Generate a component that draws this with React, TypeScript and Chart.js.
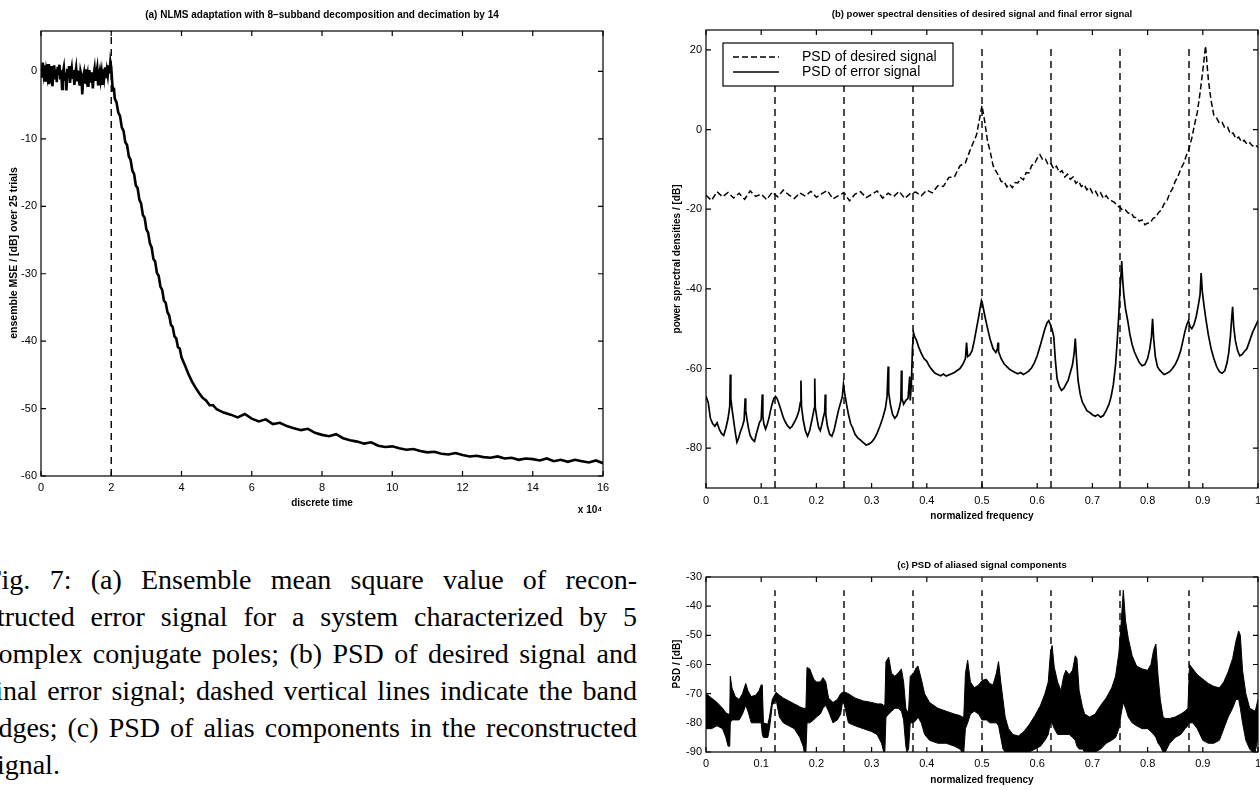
import React, { useEffect, useRef } from "react";
import { Chart, registerables } from "chart.js";

Chart.register(...registerables);

const SANS = "'Liberation Sans', Arial, Helvetica, sans-serif";
const SERIF = "'Liberation Serif', 'Times New Roman', serif";

// ---------------- (a) NLMS adaptation: [time x 10^4, dB] ----------------
const mseStart: [number, number][] = [
  [0, 0.4], [0.025, -0.9], [0.05, 1.3], [0.075, -0.2], [0.1, 0.9], [0.125, -1.5], [0.15, 0.1], [0.175, -0.7],
  [0.2, 1.1], [0.225, -1.9], [0.25, 0.6], [0.275, -0.4], [0.3, 0.8], [0.325, -2.2], [0.35, -0.3], [0.375, 0.9],
  [0.4, -1.0], [0.425, 0.3], [0.45, -1.6], [0.475, 0.7], [0.5, -0.5], [0.525, 1.0], [0.55, -1.2], [0.575, 0.2],
  [0.6, -2.6], [0.625, -0.1], [0.65, 0.6], [0.675, -1.4], [0.7, -0.2], [0.725, -2.8], [0.75, 0.4], [0.775, -0.9],
  [0.8, 0.8], [0.825, -1.7], [0.85, -0.3], [0.875, 0.5], [0.9, -1.1], [0.925, 0.2], [0.95, -2.0], [0.975, -0.4],
  [1.0, 0.5], [1.025, -1.3], [1.05, 0.1], [1.075, -0.8], [1.1, -2.1], [1.125, 0.0], [1.15, -0.6], [1.175, -3.4],
  [1.2, -0.9], [1.225, -0.2], [1.25, -1.8], [1.275, 0.3], [1.3, -1.1], [1.325, -0.4], [1.35, -2.3], [1.375, 0.2],
  [1.4, -0.7], [1.425, -1.5], [1.45, -0.1], [1.475, -2.5], [1.5, -0.5], [1.525, 0.4], [1.55, -1.4], [1.575, -0.3],
  [1.6, 0.5], [1.625, -1.9], [1.65, -0.6], [1.675, 0.1], [1.7, -1.2], [1.725, -0.2], [1.75, -2.0], [1.775, 0.3],
  [1.8, -0.8], [1.825, 0.6], [1.85, -1.0], [1.875, 0.2], [1.9, -0.6], [1.925, 0.9], [1.95, -0.3], [1.975, 1.4],
  [2.0, 0.6],
];
const mseFall: [number, number][] = [
  [2.025, -1.5], [2.05, -2.8], [2.075, -2.4], [2.1, -4.0], [2.15, -4.6], [2.2, -6.1], [2.25, -6.6], [2.3, -8.3],
  [2.35, -8.8], [2.4, -10.5], [2.45, -10.9], [2.5, -12.6], [2.55, -13.1], [2.6, -14.7], [2.65, -15.2], [2.7, -16.9],
  [2.75, -17.3], [2.8, -19.0], [2.85, -19.6], [2.9, -21.3], [2.95, -21.7], [3.0, -23.4], [3.05, -23.9], [3.1, -25.5],
  [3.15, -26.1], [3.2, -27.8], [3.25, -28.2], [3.3, -29.9], [3.35, -30.3], [3.4, -31.9], [3.45, -32.4], [3.5, -34.0],
  [3.55, -34.3], [3.6, -35.7], [3.65, -36.2], [3.7, -37.6], [3.75, -37.9], [3.8, -39.3], [3.85, -39.6], [3.9, -40.9],
  [3.95, -41.1], [4.0, -42.4], [4.1, -43.6], [4.2, -44.9], [4.3, -46.0], [4.4, -46.9], [4.5, -47.7], [4.6, -48.4],
  [4.7, -48.8], [4.8, -49.5], [4.9, -49.5], [5.0, -50.1],
];
const mseTail: [number, number][] = [
  [5.2, -50.6], [5.4, -50.9], [5.6, -51.3], [5.8, -50.8], [6.0, -51.5], [6.2, -51.9], [6.4, -51.6], [6.6, -52.3],
  [6.8, -52.1], [7.0, -52.6], [7.2, -52.9], [7.4, -53.2], [7.6, -53.0], [7.8, -53.6], [8.0, -53.9], [8.2, -54.1],
  [8.4, -53.8], [8.6, -54.4], [8.8, -54.7], [9.0, -54.9], [9.2, -55.2], [9.4, -55.0], [9.6, -55.5], [9.8, -55.7],
  [10.0, -55.6], [10.2, -55.9], [10.4, -56.1], [10.6, -56.0], [10.8, -56.3], [11.0, -56.5], [11.2, -56.4],
  [11.4, -56.7], [11.6, -56.8], [11.8, -56.6], [12.0, -56.9], [12.2, -57.1], [12.4, -57.0], [12.6, -57.2],
  [12.8, -57.3], [13.0, -57.1], [13.2, -57.4], [13.4, -57.3], [13.6, -57.6], [13.8, -57.4], [14.0, -57.5],
  [14.2, -57.7], [14.4, -57.4], [14.6, -57.8], [14.8, -57.6], [15.0, -57.9], [15.2, -57.6], [15.4, -57.8],
  [15.6, -58.0], [15.8, -57.7], [16.0, -58.1],
];
const adaptationStart = [2];
const aXTicks = [0, 2, 4, 6, 8, 10, 12, 14, 16];
const aXTickLabels = ["0", "2", "4", "6", "8", "10", "12", "14", "16"];
const aYTicks = [-60, -50, -40, -30, -20, -10, 0];
const aYTickLabels = ["-60", "-50", "-40", "-30", "-20", "-10", "0"];

// ---------------- (b) PSDs: [normalized frequency, dB] ----------------
const bandEdges = [0.125, 0.25, 0.375, 0.5, 0.625, 0.75, 0.875];
const desiredPsd: [number, number][] = [
  [0, -16.5], [0.01, -17.8], [0.02, -15.6], [0.03, -16.9], [0.04, -15.8], [0.05, -17.2], [0.06, -16.0],
  [0.07, -17.5], [0.08, -15.4], [0.09, -16.8], [0.1, -16.2], [0.11, -17.6], [0.12, -15.7], [0.13, -16.9],
  [0.14, -15.2], [0.15, -16.4], [0.16, -17.3], [0.17, -15.9], [0.18, -16.7], [0.19, -15.5], [0.2, -17.0],
  [0.21, -16.1], [0.22, -15.3], [0.23, -17.4], [0.24, -16.6], [0.25, -15.8], [0.26, -17.9], [0.27, -16.2],
  [0.28, -15.6], [0.29, -17.1], [0.3, -16.3], [0.31, -15.4], [0.32, -17.2], [0.33, -16.0], [0.34, -16.8],
  [0.35, -15.5], [0.36, -17.3], [0.37, -16.1], [0.38, -15.7], [0.39, -16.6], [0.4, -15.2], [0.41, -15.9],
  [0.42, -14.1], [0.43, -14.3], [0.44, -12.0], [0.45, -11.9], [0.46, -9.1], [0.47, -8.3], [0.48, -4.6],
  [0.49, -1.4], [0.495, 2.3], [0.5, 6.0], [0.505, 2.0], [0.51, -2.9], [0.515, -5.6], [0.52, -9.0],
  [0.525, -10.4], [0.53, -11.6], [0.535, -13.1], [0.54, -13.0], [0.545, -14.4], [0.55, -13.7], [0.555, -14.6],
  [0.56, -13.3], [0.565, -13.4], [0.57, -12.1], [0.575, -12.6], [0.58, -10.8], [0.585, -10.9], [0.59, -9.0],
  [0.595, -8.7], [0.6, -7.2], [0.605, -6.3], [0.61, -7.6], [0.615, -7.4], [0.62, -8.9], [0.625, -8.6],
  [0.63, -9.9], [0.635, -9.2], [0.64, -10.8], [0.645, -10.3], [0.65, -11.9], [0.655, -11.2], [0.66, -12.5],
  [0.665, -11.9], [0.67, -13.5], [0.675, -12.9], [0.68, -14.3], [0.685, -13.8], [0.69, -15.1], [0.695, -14.5],
  [0.7, -15.9], [0.705, -15.3], [0.71, -16.6], [0.715, -15.9], [0.72, -17.3], [0.725, -16.6], [0.73, -17.6],
  [0.735, -17.9], [0.74, -18.3], [0.745, -19.2], [0.75, -19.5], [0.755, -20.3], [0.76, -20.2], [0.765, -21.0],
  [0.77, -20.9], [0.775, -22.0], [0.78, -22.1], [0.785, -23.0], [0.79, -22.7], [0.795, -23.9], [0.8, -23.5],
  [0.805, -23.4], [0.81, -22.3], [0.815, -22.0], [0.82, -20.8], [0.825, -20.2], [0.83, -18.6], [0.835, -17.9],
  [0.84, -16.0], [0.845, -14.9], [0.85, -13.0], [0.855, -11.8], [0.86, -9.9], [0.865, -8.6], [0.87, -6.6],
  [0.875, -4.8], [0.88, -2.2], [0.885, 1.2], [0.89, 4.3], [0.895, 9.2], [0.9, 14.8], [0.905, 21.0],
  [0.91, 12.6], [0.915, 7.3], [0.92, 3.6], [0.925, 2.9], [0.93, 1.6], [0.935, 1.8], [0.94, 0.4], [0.945, 0.6],
  [0.95, -1.1], [0.955, -0.9], [0.96, -2.3], [0.965, -1.9], [0.97, -3.1], [0.975, -2.7], [0.98, -3.7],
  [0.985, -3.3], [0.99, -4.1], [0.995, -3.8], [1, -4.5],
];
const errorPsd: [number, number][] = [
  [0, -67.0], [0.004, -68.5], [0.008, -72.5], [0.012, -73.8], [0.016, -74.5], [0.02, -73.6], [0.024, -75.2],
  [0.028, -76.3], [0.032, -76.8], [0.036, -75.0], [0.04, -72.5], [0.043, -69.5], [0.044, -61.5], [0.045, -67.5],
  [0.047, -70.0], [0.05, -73.0], [0.053, -76.0], [0.056, -78.5], [0.059, -77.5], [0.062, -76.0], [0.066, -74.5],
  [0.069, -73.0], [0.071, -67.5], [0.072, -70.5], [0.074, -72.5], [0.077, -75.0], [0.08, -76.8], [0.084, -77.8],
  [0.088, -78.3], [0.091, -76.5], [0.094, -75.0], [0.097, -73.5], [0.1, -72.8], [0.102, -66.5], [0.103, -72.0],
  [0.105, -74.0], [0.108, -75.2], [0.111, -74.0], [0.114, -72.5], [0.117, -70.5], [0.12, -68.8], [0.123, -67.5],
  [0.126, -67.0], [0.129, -67.6], [0.132, -68.8], [0.136, -70.5], [0.14, -72.3], [0.144, -73.5], [0.148, -74.4],
  [0.152, -75.0], [0.156, -74.5], [0.16, -73.5], [0.164, -72.4], [0.168, -70.8], [0.171, -68.5], [0.172, -63.0],
  [0.173, -69.5], [0.176, -72.8], [0.18, -75.6], [0.184, -77.0], [0.188, -75.5], [0.191, -73.5], [0.194, -71.5],
  [0.196, -70.0], [0.197, -62.5], [0.198, -69.8], [0.201, -72.5], [0.204, -74.8], [0.207, -75.6], [0.21, -74.0],
  [0.213, -72.0], [0.215, -71.0], [0.216, -66.5], [0.217, -71.5], [0.22, -74.5], [0.224, -76.5], [0.228, -77.0],
  [0.232, -75.5], [0.236, -73.0], [0.24, -70.5], [0.244, -68.5], [0.247, -67.0], [0.249, -64.0], [0.251, -66.0],
  [0.254, -68.5], [0.258, -71.5], [0.262, -73.8], [0.266, -75.0], [0.27, -76.5], [0.275, -77.4], [0.28, -78.0],
  [0.285, -78.6], [0.29, -79.2], [0.295, -79.0], [0.3, -78.5], [0.305, -77.6], [0.31, -76.2], [0.315, -74.5],
  [0.32, -72.5], [0.325, -70.0], [0.328, -67.0], [0.33, -59.5], [0.331, -66.0], [0.334, -69.0], [0.338, -71.5],
  [0.342, -72.5], [0.346, -71.8], [0.35, -70.0], [0.353, -68.0], [0.354, -60.5], [0.355, -67.5], [0.358, -69.0],
  [0.362, -68.0], [0.366, -67.5], [0.369, -62.0], [0.37, -68.0], [0.372, -64.0], [0.374, -55.0], [0.376, -51.0],
  [0.378, -52.0], [0.381, -52.8], [0.385, -54.5], [0.39, -56.2], [0.395, -57.5], [0.4, -58.2], [0.405, -59.5],
  [0.41, -60.4], [0.415, -61.2], [0.42, -61.5], [0.425, -61.8], [0.43, -61.4], [0.435, -61.9], [0.44, -61.6],
  [0.445, -61.3], [0.45, -61.0], [0.455, -60.5], [0.46, -60.0], [0.465, -59.0], [0.47, -57.5], [0.472, -53.5],
  [0.474, -57.0], [0.478, -56.6], [0.482, -55.5], [0.486, -53.0], [0.49, -50.0], [0.494, -47.0], [0.497, -44.5],
  [0.499, -43.0], [0.501, -43.8], [0.504, -46.0], [0.507, -48.0], [0.511, -50.5], [0.515, -52.8], [0.52, -55.0],
  [0.525, -56.0], [0.528, -55.0], [0.529, -53.5], [0.53, -55.8], [0.535, -57.6], [0.54, -58.8], [0.545, -59.5],
  [0.55, -60.2], [0.555, -60.6], [0.56, -61.0], [0.565, -61.3], [0.57, -61.0], [0.575, -61.5], [0.58, -61.1],
  [0.585, -60.6], [0.59, -59.8], [0.595, -58.5], [0.6, -56.8], [0.605, -54.5], [0.61, -52.0], [0.614, -50.0],
  [0.618, -48.5], [0.621, -48.0], [0.624, -49.0], [0.627, -50.2], [0.63, -52.0], [0.633, -58.0], [0.636, -62.5],
  [0.64, -64.5], [0.644, -65.5], [0.648, -65.0], [0.652, -64.0], [0.656, -63.0], [0.66, -61.0], [0.664, -59.0],
  [0.667, -56.0], [0.669, -52.5], [0.671, -57.0], [0.674, -63.0], [0.678, -66.5], [0.682, -68.5], [0.686, -69.5],
  [0.69, -70.6], [0.695, -71.0], [0.7, -71.6], [0.705, -72.0], [0.71, -71.6], [0.715, -72.2], [0.72, -71.8],
  [0.725, -70.5], [0.73, -69.0], [0.734, -67.0], [0.738, -64.0], [0.742, -59.0], [0.745, -53.0], [0.748, -46.0],
  [0.75, -40.0], [0.752, -36.0], [0.753, -33.0], [0.755, -38.0], [0.757, -41.5], [0.76, -45.0], [0.764, -48.0],
  [0.768, -51.5], [0.772, -54.0], [0.776, -55.8], [0.78, -57.0], [0.785, -58.5], [0.79, -59.3], [0.795, -59.0],
  [0.8, -57.5], [0.804, -55.0], [0.807, -52.0], [0.809, -47.5], [0.811, -52.5], [0.814, -57.0], [0.818, -59.6],
  [0.822, -60.4], [0.826, -61.0], [0.83, -61.5], [0.835, -61.2], [0.84, -60.8], [0.845, -60.0], [0.85, -59.0],
  [0.855, -57.5], [0.86, -55.5], [0.864, -53.0], [0.868, -50.5], [0.871, -49.0], [0.874, -48.0], [0.877, -49.5],
  [0.88, -50.0], [0.884, -49.0], [0.888, -47.0], [0.892, -44.0], [0.895, -41.5], [0.897, -36.0], [0.899, -40.5],
  [0.902, -44.0], [0.906, -48.0], [0.91, -51.5], [0.915, -55.0], [0.92, -57.5], [0.925, -59.5], [0.93, -60.8],
  [0.935, -61.2], [0.94, -60.5], [0.944, -58.5], [0.947, -56.0], [0.95, -52.0], [0.952, -48.0], [0.954, -44.5],
  [0.956, -49.5], [0.959, -53.0], [0.963, -55.5], [0.967, -56.8], [0.971, -56.5], [0.975, -55.8], [0.98, -55.0],
  [0.985, -53.0], [0.99, -51.0], [0.995, -49.5], [1, -48.0],
];
const freqTicks = [0, 0.1, 0.2, 0.3, 0.4, 0.5, 0.6, 0.7, 0.8, 0.9, 1];
const freqTickLabels = ["0", "0.1", "0.2", "0.3", "0.4", "0.5", "0.6", "0.7", "0.8", "0.9", "1"];
const bYTicks = [-80, -60, -40, -20, 0, 20];
const bYTickLabels = ["-80", "-60", "-40", "-20", "0", "20"];

// ---------------- (c) aliased components: [freq, upper envelope dB, lower envelope dB] ----------------
const aliasBand: [number, number, number][] = [
  [0, -70, -82], [0.01, -71.5, -82], [0.02, -73, -81], [0.03, -75, -82], [0.036, -76.5, -85], [0.04, -77, -88],
  [0.043, -77, -88], [0.044, -64, -80], [0.047, -68, -79], [0.053, -71, -79], [0.06, -72, -79], [0.066, -70, -77],
  [0.072, -66.5, -74], [0.076, -69, -76], [0.082, -71, -80], [0.09, -70.5, -80], [0.096, -69, -80], [0.1, -67, -80],
  [0.102, -67, -84], [0.104, -80, -85], [0.112, -80.5, -85], [0.115, -78, -82], [0.12, -72, -74], [0.127, -69.5, -72],
  [0.133, -70.5, -78], [0.14, -71.5, -80], [0.15, -72.5, -81], [0.16, -73.5, -82], [0.17, -74.5, -85],
  [0.176, -75, -88], [0.178, -75, -90], [0.181, -75, -90], [0.183, -61, -80], [0.188, -61.5, -80], [0.195, -65, -79],
  [0.2, -66, -78], [0.207, -66, -77], [0.212, -64.5, -75], [0.217, -66, -74], [0.222, -71.5, -76], [0.23, -73, -80],
  [0.238, -72, -79], [0.244, -70, -77], [0.248, -69.5, -72], [0.252, -69.5, -75], [0.258, -70, -80],
  [0.27, -71.5, -81], [0.285, -72.5, -82], [0.3, -73, -83], [0.31, -73.5, -84], [0.318, -73.5, -87],
  [0.322, -74, -90], [0.324, -74, -90], [0.326, -59, -78], [0.331, -57.5, -77], [0.336, -63, -76], [0.342, -64, -75],
  [0.348, -63, -75], [0.354, -61.5, -76], [0.358, -66, -79], [0.362, -75, -88], [0.364, -76, -90], [0.367, -76, -89],
  [0.37, -64, -80], [0.376, -63, -80], [0.381, -61, -79], [0.384, -60.5, -78], [0.39, -65, -80], [0.396, -70, -84],
  [0.405, -73, -86], [0.42, -75, -87], [0.435, -76, -87], [0.45, -77, -88], [0.46, -77.5, -89], [0.464, -78, -90],
  [0.467, -78, -90], [0.47, -63, -82], [0.474, -58.5, -80], [0.479, -66, -77], [0.486, -68, -76], [0.494, -67, -77],
  [0.5, -65.5, -79], [0.508, -65, -79], [0.514, -66.5, -80], [0.52, -67, -80], [0.526, -63, -80], [0.53, -59, -81],
  [0.534, -66, -85], [0.538, -72, -89], [0.542, -78, -90], [0.548, -82, -90], [0.556, -84, -90], [0.566, -84.5, -90],
  [0.576, -83, -90], [0.586, -80.5, -90], [0.596, -77.5, -89], [0.606, -74, -88], [0.614, -70, -86], [0.62, -66, -84],
  [0.624, -56, -80], [0.627, -53.5, -80], [0.631, -61, -82], [0.637, -66, -84], [0.643, -69, -84], [0.648, -64, -84],
  [0.652, -62, -84], [0.658, -63.5, -84], [0.664, -62, -85], [0.669, -57, -86], [0.672, -58, -88], [0.676, -69, -89],
  [0.682, -74.5, -89], [0.686, -77, -90], [0.695, -78, -90], [0.705, -77, -90], [0.715, -74, -89], [0.725, -71.5, -87],
  [0.735, -68, -86], [0.742, -64, -85], [0.748, -56, -82], [0.752, -46, -77], [0.756, -34.5, -73], [0.76, -45, -75],
  [0.765, -51, -78], [0.772, -57, -80], [0.78, -60.5, -81], [0.79, -61.5, -82], [0.8, -62, -82], [0.806, -60, -83],
  [0.811, -55, -84], [0.815, -53, -85], [0.819, -64, -87], [0.823, -72, -88], [0.828, -78, -90], [0.832, -78.5, -90],
  [0.84, -78.5, -87], [0.85, -78, -85], [0.86, -77, -84], [0.868, -76, -82], [0.873, -75, -81], [0.876, -60, -80],
  [0.882, -61.5, -80], [0.89, -63.5, -82], [0.9, -65, -86], [0.91, -66.5, -87], [0.92, -67.5, -87], [0.93, -68, -86],
  [0.938, -66, -82], [0.946, -62.5, -78], [0.954, -58, -75], [0.96, -52, -72], [0.965, -48.5, -72], [0.968, -50, -75],
  [0.972, -62, -80], [0.978, -70, -86], [0.985, -75, -89], [0.99, -75.5, -90], [0.995, -76, -90], [1, -72, -85],
];
const cYTicks = [-90, -80, -70, -60, -50, -40, -30];
const cYTickLabels = ["-90", "-80", "-70", "-60", "-50", "-40", "-30"];

const captionLines = [
  "Fig. 7:  (a) Ensemble mean square value of recon-",
  "structed error signal for a system characterized by 5",
  "complex conjugate poles; (b) PSD of desired signal and",
  "final error signal; dashed vertical lines indicate the band",
  "edges; (c) PSD of alias components in the reconstructed",
  "signal.",
];

// ---------------- helpers ----------------
const pts = (arr: [number, number][]) => arr.map(([x, y]) => ({ x, y }));
const vline = (x: number, y0: number, y1: number) => [{ x, y: y0 }, { x, y: y1 }];

type Txt = { text: string; x: number; y: number; font: string; align?: CanvasTextAlign; rotate?: boolean };
type Spec = {
  canvas: { left: number; top: number; width: number; height: number };
  box: { left: number; top: number; right: number; bottom: number };
  x: { min: number; max: number; ticks: number[]; labels: string[] };
  y: { min: number; max: number; ticks: number[]; labels: string[] };
  tickSize: number;
  xTickPad: number;
  yTickPad: number;
  datasets: any[];
  texts: Txt[];
  legend?: { box: [number, number, number, number]; sampleX: [number, number]; textX: number; rows: { label: string; dash: number[]; y: number }[]; font: string };
};

const edgeStyle = { borderColor: "#000", borderWidth: 1.4, borderDash: [7, 5], pointRadius: 0, fill: false };

const SPECS: Spec[] = [
  {
    canvas: { left: 0, top: 0, width: 640, height: 530 },
    box: { left: 41, top: 31, right: 603, bottom: 476 },
    x: { min: 0, max: 16, ticks: aXTicks, labels: aXTickLabels },
    y: { min: -60, max: 6, ticks: aYTicks, labels: aYTickLabels },
    tickSize: 11,
    xTickPad: 5,
    yTickPad: 4,
    datasets: [
      ...adaptationStart.map((t) => ({ label: "start", data: vline(t, -60, 6), ...edgeStyle })),
      {
        label: "ensemble MSE",
        data: pts([...mseStart, ...mseFall, ...mseTail]),
        borderColor: "#000",
        borderWidth: 2.6,
        pointRadius: 0,
        fill: false,
      },
    ],
    texts: [
      { text: "(a) NLMS adaptation with 8\u2212subband decomposition and decimation by 14", x: 322, y: 15, font: `bold 10px ${SANS}` },
      { text: "ensemble MSE / [dB] over 25 trials", x: 14, y: 253, font: `bold 10.5px ${SANS}`, rotate: true },
      { text: "discrete time", x: 322, y: 503, font: `bold 10px ${SANS}` },
      { text: "x 10\u2074", x: 590, y: 510, font: `bold 10px ${SANS}` },
    ],
  },
  {
    canvas: { left: 640, top: 0, width: 630, height: 540 },
    box: { left: 706, top: 30, right: 1258, bottom: 488 },
    x: { min: 0, max: 1, ticks: freqTicks, labels: freqTickLabels },
    y: { min: -90, max: 25, ticks: bYTicks, labels: bYTickLabels },
    tickSize: 11,
    xTickPad: 6,
    yTickPad: 4,
    datasets: [
      ...bandEdges.map((e) => ({ label: "band edge", data: vline(e, -90, 21.5), ...edgeStyle })),
      {
        label: "PSD of desired signal",
        data: pts(desiredPsd),
        borderColor: "#000",
        borderWidth: 1.5,
        borderDash: [6, 3],
        pointRadius: 0,
        fill: false,
      },
      {
        label: "PSD of error signal",
        data: pts(errorPsd),
        borderColor: "#000",
        borderWidth: 1.7,
        pointRadius: 0,
        fill: false,
      },
    ],
    texts: [
      { text: "(b) power spectral densities of desired signal and final error signal", x: 982, y: 14, font: `bold 9.5px ${SANS}` },
      { text: "power sprectral densities / [dB]", x: 677, y: 259, font: `bold 10px ${SANS}`, rotate: true },
      { text: "normalized frequency", x: 982, y: 516, font: `bold 10px ${SANS}` },
    ],
    legend: {
      box: [723, 43, 953, 86],
      sampleX: [733, 779],
      textX: 802,
      rows: [
        { label: "PSD of desired signal", dash: [6, 3], y: 57 },
        { label: "PSD of error signal", dash: [], y: 72 },
      ],
      font: `14px ${SANS}`,
    },
  },
  {
    canvas: { left: 640, top: 545, width: 630, height: 245 },
    box: { left: 706, top: 577, right: 1258, bottom: 752 },
    x: { min: 0, max: 1, ticks: freqTicks, labels: freqTickLabels },
    y: { min: -90, max: -30, ticks: cYTicks, labels: cYTickLabels },
    tickSize: 11,
    xTickPad: 5,
    yTickPad: 4,
    datasets: [
      ...bandEdges.map((e) => ({ label: "band edge", data: vline(e, -90, -34.5), ...edgeStyle })),
      {
        label: "alias lower",
        data: aliasBand.map(([f, , lo]) => ({ x: f, y: lo })),
        borderColor: "#000",
        borderWidth: 1,
        pointRadius: 0,
        fill: false,
      },
      {
        label: "PSD of aliased components",
        data: aliasBand.map(([f, hi]) => ({ x: f, y: hi })),
        borderColor: "#000",
        borderWidth: 1,
        pointRadius: 0,
        backgroundColor: "#000",
        fill: "-1",
      },
    ],
    texts: [
      { text: "(c) PSD of aliased signal components", x: 982, y: 565, font: `bold 9.5px ${SANS}` },
      { text: "PSD / [dB]", x: 677, y: 664, font: `bold 10px ${SANS}`, rotate: true },
      { text: "normalized frequency", x: 982, y: 780, font: `bold 10px ${SANS}` },
    ],
  },
];

function makeChart(canvas: HTMLCanvasElement, s: Spec) {
  const yw = s.box.left - s.canvas.left;
  const xh = 24;
  const padding = {
    left: 0,
    top: s.box.top - s.canvas.top,
    right: s.canvas.left + s.canvas.width - s.box.right,
    bottom: s.canvas.top + s.canvas.height - s.box.bottom - xh,
  };
  const ox = s.canvas.left;
  const oy = s.canvas.top;
  const frame = {
    id: "matlabFrame",
    afterDatasetsDraw(chart: any) {
      const { ctx, chartArea: a, scales } = chart;
      ctx.save();
      if (s.legend) {
        const L = s.legend;
        const [x1, y1, x2, y2] = L.box;
        ctx.fillStyle = "#fff";
        ctx.fillRect(x1 - ox, y1 - oy, x2 - x1, y2 - y1);
        ctx.strokeStyle = "#000";
        ctx.lineWidth = 1.2;
        ctx.setLineDash([]);
        ctx.strokeRect(x1 - ox, y1 - oy, x2 - x1, y2 - y1);
        ctx.font = L.font;
        ctx.fillStyle = "#000";
        ctx.textAlign = "left";
        ctx.textBaseline = "middle";
        for (const r of L.rows) {
          ctx.setLineDash(r.dash);
          ctx.lineWidth = 1.4;
          ctx.beginPath();
          ctx.moveTo(L.sampleX[0] - ox, r.y - oy);
          ctx.lineTo(L.sampleX[1] - ox, r.y - oy);
          ctx.stroke();
          ctx.setLineDash([]);
          ctx.fillText(r.label, L.textX - ox, r.y - oy);
        }
      }
      ctx.setLineDash([]);
      ctx.strokeStyle = "#000";
      ctx.lineWidth = 1.2;
      ctx.strokeRect(a.left, a.top, a.right - a.left, a.bottom - a.top);
      const tl = 5;
      ctx.beginPath();
      for (const t of scales.x.ticks) {
        const px = scales.x.getPixelForValue(t.value);
        ctx.moveTo(px, a.bottom);
        ctx.lineTo(px, a.bottom - tl);
        ctx.moveTo(px, a.top);
        ctx.lineTo(px, a.top + tl);
      }
      for (const t of scales.y.ticks) {
        const py = scales.y.getPixelForValue(t.value);
        ctx.moveTo(a.left, py);
        ctx.lineTo(a.left + tl, py);
        ctx.moveTo(a.right, py);
        ctx.lineTo(a.right - tl, py);
      }
      ctx.stroke();
      ctx.fillStyle = "#000";
      ctx.textBaseline = "middle";
      for (const t of s.texts) {
        ctx.save();
        ctx.font = t.font;
        ctx.textAlign = t.align || "center";
        ctx.translate(t.x - ox, t.y - oy);
        if (t.rotate) ctx.rotate(-Math.PI / 2);
        ctx.fillText(t.text, 0, 0);
        ctx.restore();
      }
      ctx.restore();
    },
  };
  const tickFont = { family: SANS, size: s.tickSize };
  return new Chart(canvas, {
    type: "line",
    data: { datasets: s.datasets },
    options: {
      animation: false,
      responsive: false,
      devicePixelRatio: 1,
      events: [],
      layout: { padding },
      elements: { point: { radius: 0, hoverRadius: 0 }, line: { tension: 0 } },
      plugins: { legend: { display: false }, tooltip: { enabled: false }, title: { display: false } },
      scales: {
        x: {
          type: "linear",
          min: s.x.min,
          max: s.x.max,
          grid: { display: false, drawTicks: false },
          border: { display: false },
          afterBuildTicks: (sc: any) => {
            sc.ticks = s.x.ticks.map((v) => ({ value: v }));
          },
          afterFit: (sc: any) => {
            sc.height = xh;
          },
          ticks: {
            autoSkip: false,
            maxRotation: 0,
            minRotation: 0,
            padding: s.xTickPad,
            color: "#000",
            font: tickFont,
            callback: (_v: any, i: number) => s.x.labels[i],
          },
        },
        y: {
          type: "linear",
          min: s.y.min,
          max: s.y.max,
          grid: { display: false, drawTicks: false },
          border: { display: false },
          afterBuildTicks: (sc: any) => {
            sc.ticks = s.y.ticks.map((v) => ({ value: v }));
          },
          afterFit: (sc: any) => {
            sc.width = yw;
          },
          ticks: {
            autoSkip: false,
            padding: s.yTickPad,
            color: "#000",
            font: tickFont,
            callback: (_v: any, i: number) => s.y.labels[i],
          },
        },
      },
    } as any,
    plugins: [frame],
  });
}

function Caption() {
  const left = -14;
  const width = 651;
  const top0 = 580;
  const step = 37;
  return (
    <>
      {captionLines.map((line, i) => {
        const last = i === captionLines.length - 1;
        const words = line.split(/\s+/);
        return (
          <div
            key={i}
            style={{
              position: "absolute",
              left,
              top: top0 + i * step - 16,
              width,
              height: 32,
              lineHeight: "32px",
              fontFamily: SERIF,
              fontSize: 28,
              color: "#000",
              whiteSpace: "nowrap",
              display: "flex",
              justifyContent: last ? "flex-start" : "space-between",
            }}
          >
            {words.map((w, j) => (
              <span key={j}>{w}</span>
            ))}
          </div>
        );
      })}
    </>
  );
}

export default function App() {
  const r0 = useRef<HTMLCanvasElement>(null);
  const r1 = useRef<HTMLCanvasElement>(null);
  const r2 = useRef<HTMLCanvasElement>(null);
  const refs = [r0, r1, r2];
  useEffect(() => {
    const charts = SPECS.map((s, i) => makeChart(refs[i].current as HTMLCanvasElement, s));
    return () => charts.forEach((c) => c.destroy());
  }, []);
  return (
    <div
      style={{
        position: "absolute",
        left: 0,
        top: 0,
        width: 1260,
        height: 790,
        overflow: "hidden",
        background: "#fff",
      }}
    >
      {SPECS.map((s, i) => (
        <canvas
          key={i}
          ref={refs[i]}
          width={s.canvas.width}
          height={s.canvas.height}
          style={{ position: "absolute", left: s.canvas.left, top: s.canvas.top, width: s.canvas.width, height: s.canvas.height }}
        />
      ))}
      <Caption />
    </div>
  );
}
